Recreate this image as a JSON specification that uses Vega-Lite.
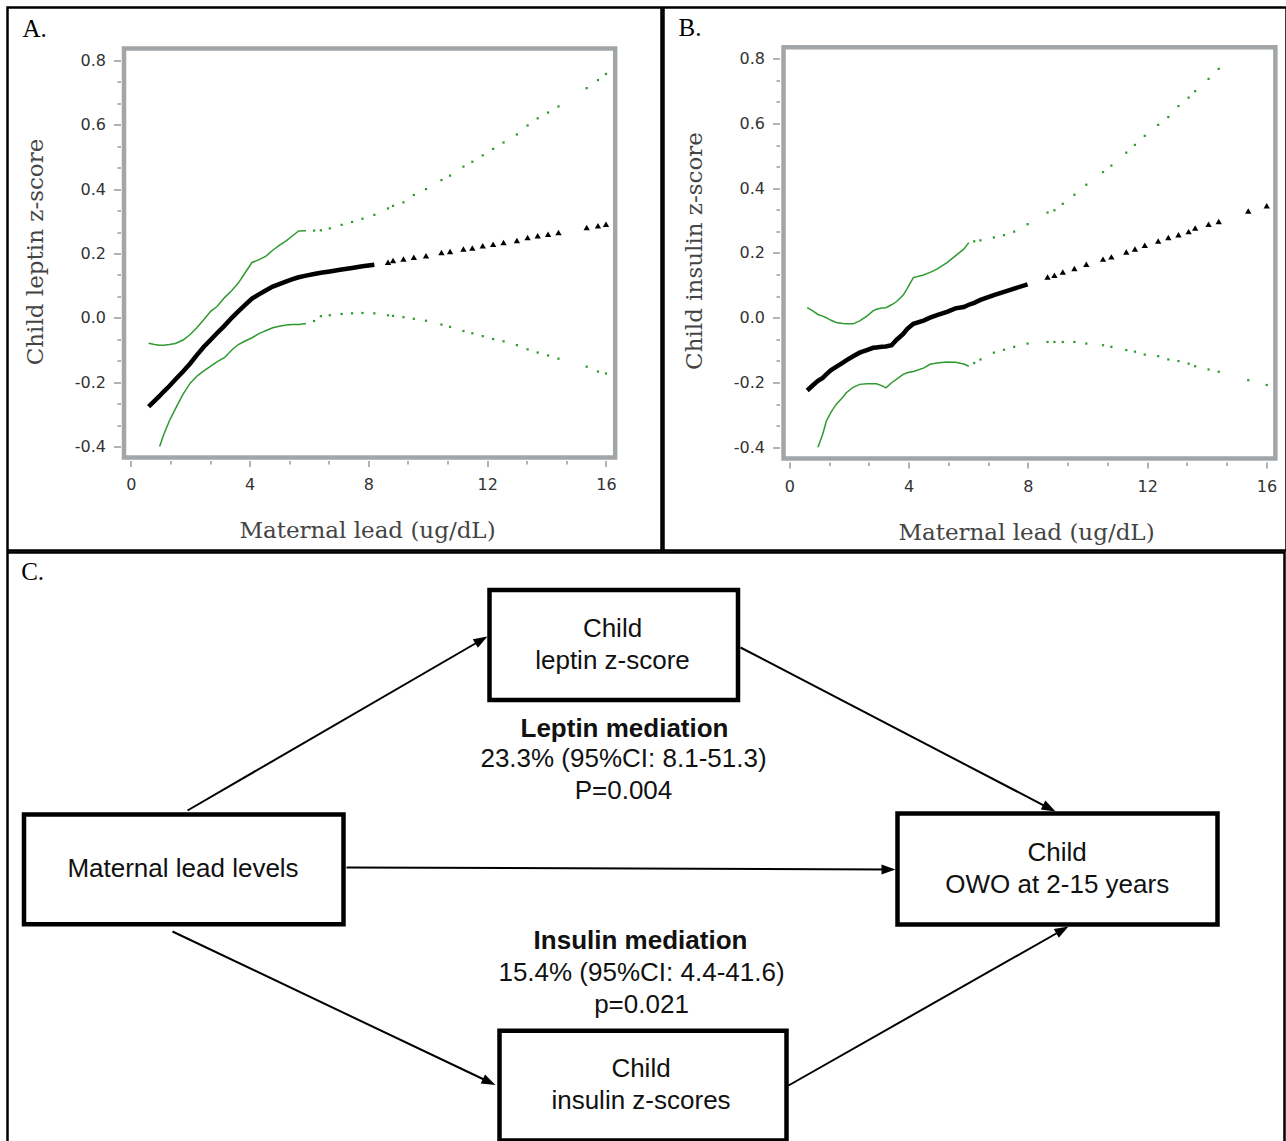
{
  "$schema": "https://vega.github.io/schema/vega-lite/v6.json",
  "padding": {"left": 5.5, "top": 5.5, "right": 0, "bottom": 0},
  "background": "white",
  "config": {
    "view": {"stroke": "black", "strokeWidth": 2.5},
    "axis": {"labelFlush": false, "labelOverlap": false, "labelBound": false, "grid": false, "domain": false}
  },
  "datasets": {
    "leptin": [
      {"x": 0.6, "est": -0.276, "lo": null, "hi": -0.079},
      {"x": 0.8, "est": -0.258, "lo": null, "hi": -0.083},
      {"x": 0.97, "est": -0.243, "lo": -0.4, "hi": -0.085},
      {"x": 1.1, "est": -0.23, "lo": -0.365, "hi": -0.085},
      {"x": 1.3, "est": -0.212, "lo": -0.32, "hi": -0.083},
      {"x": 1.5, "est": -0.192, "lo": -0.283, "hi": -0.08},
      {"x": 1.76, "est": -0.167, "lo": -0.237, "hi": -0.069},
      {"x": 2.0, "est": -0.142, "lo": -0.203, "hi": -0.052},
      {"x": 2.23, "est": -0.115, "lo": -0.181, "hi": -0.03},
      {"x": 2.46, "est": -0.09, "lo": -0.165, "hi": -0.005},
      {"x": 2.69, "est": -0.068, "lo": -0.15, "hi": 0.02},
      {"x": 2.9, "est": -0.048, "lo": -0.137, "hi": 0.035},
      {"x": 3.15, "est": -0.025, "lo": -0.124, "hi": 0.062},
      {"x": 3.4, "est": 0.0, "lo": -0.1, "hi": 0.085},
      {"x": 3.62, "est": 0.02, "lo": -0.083, "hi": 0.108},
      {"x": 3.85, "est": 0.04, "lo": -0.072, "hi": 0.14},
      {"x": 4.08, "est": 0.06, "lo": -0.062, "hi": 0.172},
      {"x": 4.3, "est": 0.072, "lo": -0.05, "hi": 0.18},
      {"x": 4.54, "est": 0.085, "lo": -0.04, "hi": 0.191},
      {"x": 4.78, "est": 0.097, "lo": -0.031, "hi": 0.21},
      {"x": 5.0, "est": 0.105, "lo": -0.026, "hi": 0.225},
      {"x": 5.24, "est": 0.113, "lo": -0.022, "hi": 0.24},
      {"x": 5.45, "est": 0.12, "lo": -0.021, "hi": 0.255},
      {"x": 5.65, "est": 0.126, "lo": -0.021, "hi": 0.27},
      {"x": 5.9, "est": 0.131, "lo": -0.018, "hi": 0.271},
      {"x": 6.17, "est": 0.136, "lo": -0.01, "hi": 0.271},
      {"x": 6.4, "est": 0.14, "lo": 0.005, "hi": 0.272},
      {"x": 6.7, "est": 0.144, "lo": 0.008, "hi": 0.278},
      {"x": 7.1, "est": 0.15, "lo": 0.012, "hi": 0.289},
      {"x": 7.45, "est": 0.155, "lo": 0.014, "hi": 0.298},
      {"x": 7.8, "est": 0.16, "lo": 0.015, "hi": 0.308},
      {"x": 8.2, "est": 0.165, "lo": 0.014, "hi": 0.32},
      {"x": 8.66, "est": 0.173, "lo": 0.008, "hi": 0.34},
      {"x": 8.83, "est": 0.178, "lo": 0.006, "hi": 0.348},
      {"x": 9.18, "est": 0.183, "lo": 0.002, "hi": 0.359},
      {"x": 9.53, "est": 0.188, "lo": -0.003, "hi": 0.382},
      {"x": 9.94, "est": 0.193, "lo": -0.009, "hi": 0.4},
      {"x": 10.46, "est": 0.203, "lo": -0.021, "hi": 0.428},
      {"x": 10.75, "est": 0.206, "lo": -0.028, "hi": 0.442},
      {"x": 11.2, "est": 0.214, "lo": -0.041, "hi": 0.47},
      {"x": 11.5, "est": 0.217, "lo": -0.048, "hi": 0.485},
      {"x": 11.85, "est": 0.224, "lo": -0.057, "hi": 0.505},
      {"x": 12.2, "est": 0.229, "lo": -0.066, "hi": 0.525},
      {"x": 12.55, "est": 0.234, "lo": -0.073, "hi": 0.545},
      {"x": 13.0, "est": 0.24, "lo": -0.085, "hi": 0.57},
      {"x": 13.36, "est": 0.25, "lo": -0.098, "hi": 0.598},
      {"x": 13.7, "est": 0.255, "lo": -0.108, "hi": 0.62},
      {"x": 14.05, "est": 0.26, "lo": -0.117, "hi": 0.638},
      {"x": 14.4, "est": 0.265, "lo": -0.127, "hi": 0.657},
      {"x": 15.35, "est": 0.281, "lo": -0.152, "hi": 0.714},
      {"x": 15.73, "est": 0.286, "lo": -0.167, "hi": 0.739},
      {"x": 16.0, "est": 0.291, "lo": -0.173, "hi": 0.758}
    ],
    "insulin": [
      {"x": 0.6, "est": -0.225, "lo": null, "hi": 0.031},
      {"x": 0.8, "est": -0.208, "lo": null, "hi": 0.02},
      {"x": 0.96, "est": -0.195, "lo": -0.4, "hi": 0.01},
      {"x": 1.12, "est": -0.186, "lo": -0.36, "hi": 0.005},
      {"x": 1.24, "est": -0.175, "lo": -0.32, "hi": 0.0},
      {"x": 1.4, "est": -0.162, "lo": -0.292, "hi": -0.008},
      {"x": 1.57, "est": -0.152, "lo": -0.268, "hi": -0.015},
      {"x": 1.8, "est": -0.139, "lo": -0.245, "hi": -0.018},
      {"x": 1.91, "est": -0.132, "lo": -0.232, "hi": -0.019},
      {"x": 2.14, "est": -0.119, "lo": -0.215, "hi": -0.019},
      {"x": 2.36, "est": -0.108, "lo": -0.206, "hi": -0.01},
      {"x": 2.6, "est": -0.1, "lo": -0.204, "hi": 0.005},
      {"x": 2.81, "est": -0.093, "lo": -0.204, "hi": 0.021},
      {"x": 2.92, "est": -0.092, "lo": -0.204, "hi": 0.026},
      {"x": 3.1, "est": -0.09, "lo": -0.21, "hi": 0.03},
      {"x": 3.24, "est": -0.089, "lo": -0.217, "hi": 0.031},
      {"x": 3.43, "est": -0.085, "lo": -0.201, "hi": 0.04},
      {"x": 3.6, "est": -0.068, "lo": -0.19, "hi": 0.05},
      {"x": 3.82, "est": -0.05, "lo": -0.175, "hi": 0.07},
      {"x": 3.95, "est": -0.035, "lo": -0.17, "hi": 0.09},
      {"x": 4.16, "est": -0.019, "lo": -0.166, "hi": 0.124},
      {"x": 4.5, "est": -0.009, "lo": -0.156, "hi": 0.132},
      {"x": 4.72, "est": 0.0, "lo": -0.144, "hi": 0.14},
      {"x": 4.95, "est": 0.008, "lo": -0.14, "hi": 0.15},
      {"x": 5.29, "est": 0.018, "lo": -0.137, "hi": 0.17},
      {"x": 5.57, "est": 0.029, "lo": -0.138, "hi": 0.191},
      {"x": 5.85, "est": 0.033, "lo": -0.143, "hi": 0.212},
      {"x": 6.02, "est": 0.04, "lo": -0.15, "hi": 0.232},
      {"x": 6.2, "est": 0.046, "lo": -0.14, "hi": 0.236},
      {"x": 6.41, "est": 0.055, "lo": -0.129, "hi": 0.239},
      {"x": 6.86, "est": 0.07, "lo": -0.108, "hi": 0.248},
      {"x": 7.2, "est": 0.08, "lo": -0.099, "hi": 0.255},
      {"x": 7.54, "est": 0.09, "lo": -0.09, "hi": 0.266},
      {"x": 7.99, "est": 0.103, "lo": -0.08, "hi": 0.289},
      {"x": 8.66, "est": 0.126, "lo": -0.075, "hi": 0.325},
      {"x": 8.89, "est": 0.131, "lo": -0.075, "hi": 0.332},
      {"x": 9.17, "est": 0.141, "lo": -0.075, "hi": 0.352},
      {"x": 9.56, "est": 0.152, "lo": -0.075, "hi": 0.38},
      {"x": 9.96, "est": 0.165, "lo": -0.08, "hi": 0.411},
      {"x": 10.52, "est": 0.181, "lo": -0.085, "hi": 0.45},
      {"x": 10.8, "est": 0.188, "lo": -0.09, "hi": 0.47},
      {"x": 11.3, "est": 0.203, "lo": -0.1, "hi": 0.51},
      {"x": 11.59, "est": 0.212, "lo": -0.105, "hi": 0.534},
      {"x": 11.92, "est": 0.224, "lo": -0.114, "hi": 0.562},
      {"x": 12.37, "est": 0.237, "lo": -0.119, "hi": 0.596},
      {"x": 12.71, "est": 0.248, "lo": -0.129, "hi": 0.62},
      {"x": 13.05, "est": 0.256, "lo": -0.134, "hi": 0.654},
      {"x": 13.39, "est": 0.266, "lo": -0.142, "hi": 0.68},
      {"x": 13.61, "est": 0.277, "lo": -0.15, "hi": 0.7},
      {"x": 14.06, "est": 0.289, "lo": -0.16, "hi": 0.738},
      {"x": 14.4, "est": 0.297, "lo": -0.167, "hi": 0.769},
      {"x": 15.39, "est": 0.33, "lo": -0.193, "hi": null},
      {"x": 16.01, "est": 0.346, "lo": -0.208, "hi": null}
    ],
    "boxes": [
      {"x1": 16.5, "x2": 336, "y1": 262, "y2": 371.7},
      {"x1": 482, "x2": 730.5, "y1": 37.5, "y2": 147.5},
      {"x1": 890, "x2": 1210, "y1": 261, "y2": 372},
      {"x1": 492, "x2": 779, "y1": 478.3, "y2": 588}
    ],
    "arrows": [
      {"x1": 180, "y1": 258, "x2": 473.9, "y2": 87.5, "angle": 329.9},
      {"x1": 733, "y1": 95, "x2": 1041.8, "y2": 255.8, "angle": 27.5},
      {"x1": 339, "y1": 315, "x2": 881, "y2": 317, "angle": 0.2},
      {"x1": 165, "y1": 379, "x2": 481.7, "y2": 529.5, "angle": 25.4},
      {"x1": 781, "y1": 533, "x2": 1054.9, "y2": 377.5, "angle": 330.4}
    ],
    "boxtext": [
      {"x": 175.5, "y": 316, "t": "Maternal lead levels"},
      {"x": 605, "y": 76.5, "t": "Child\nleptin z-score"},
      {"x": 1049.7, "y": 300, "t": "Child\nOWO at 2-15 years"},
      {"x": 633.5, "y": 516.5, "t": "Child\ninsulin z-scores"},
      {"x": 616, "y": 206.5, "t": "23.3% (95%CI: 8.1-51.3)\nP=0.004"},
      {"x": 634, "y": 420, "t": "15.4% (95%CI: 4.4-41.6)\np=0.021"}
    ],
    "boldtext": [
      {"x": 617, "y": 176.5, "t": "Leptin mediation"},
      {"x": 633, "y": 388, "t": "Insulin mediation"}
    ]
  },
  "vconcat": [
    {
      "hconcat": [
        {
          "width": 654,
          "height": 543,
          "layer": [
            {
              "data": {"values": [{"x1": -0.229, "x2": 16.31, "y1": -0.4343, "y2": 0.8371}]},
              "mark": {"type": "rect", "fillOpacity": 0, "stroke": "#a3a6a9", "strokeWidth": 4.5},
              "encoding": {
                "x": {"field": "x1", "type": "quantitative", "scale": {"domain": [-4.152, 17.869], "nice": false, "zero": false},
                  "axis": {"orient": "bottom", "offset": -90, "values": [0, 4, 8, 12, 16], "format": "d", "domain": false, "grid": false, "ticks": true, "tickSize": 6, "tickColor": "#999999", "tickWidth": 1.5, "labelPadding": 10, "labelFont": "DejaVu Sans", "labelFontSize": 16, "labelColor": "#333333", "title": "Maternal lead (ug/dL)", "titleFont": "DejaVu Serif", "titleFontSize": 23, "titleFontWeight": "normal", "titleColor": "#444444", "titleX": 359.5, "titleY": 70, "titleAlign": "center", "titleBaseline": "middle", "titleAngle": 0}},
                "x2": {"field": "x2"},
                "y": {"field": "y1", "type": "quantitative", "scale": {"domain": [-0.7233, 0.9646], "nice": false, "zero": false},
                  "axis": {"orient": "left", "offset": -113, "values": [-0.4, -0.2, 0, 0.2, 0.4, 0.6, 0.8], "labelExpr": "replace(format(datum.value, '.1f'), '−', '-')", "domain": false, "grid": false, "ticks": true, "tickSize": 7, "tickColor": "#999999", "tickWidth": 1.5, "labelPadding": 8, "labelFont": "DejaVu Sans", "labelFontSize": 16, "labelColor": "#333333", "title": "Child leptin z-score", "titleFont": "DejaVu Serif", "titleFontSize": 23, "titleFontWeight": "normal", "titleColor": "#444444", "titleX": -85, "titleY": 244, "titleAngle": -90, "titleAlign": "center", "titleBaseline": "middle"}},
                "y2": {"field": "y2"}
              }
            },
            {
              "data": {"values": [{"x1": -0.229, "x2": 16.31, "y1": -0.4343, "y2": 0.8371}]},
              "mark": {"type": "rect", "opacity": 0},
              "encoding": {
                "x": {"field": "x1", "type": "quantitative", "scale": {"domain": [-4.152, 17.869], "nice": false, "zero": false},
                  "axis": {"orient": "bottom", "offset": -90, "values": [1.3333, 2.6667, 5.3333, 6.6667, 9.3333, 10.6667, 13.3333, 14.6667], "labels": false, "domain": false, "grid": false, "ticks": true, "tickSize": 3.5, "tickColor": "#999999", "tickWidth": 1.5, "title": null}},
                "x2": {"field": "x2"},
                "y": {"field": "y1", "type": "quantitative", "scale": {"domain": [-0.7233, 0.9646], "nice": false, "zero": false},
                  "axis": {"orient": "left", "offset": -113, "values": [-0.3333, -0.2667, -0.1333, -0.0667, 0.0667, 0.1333, 0.2667, 0.3333, 0.4667, 0.5333, 0.6667, 0.7333], "labels": false, "domain": false, "grid": false, "ticks": true, "tickSize": 3.5, "tickColor": "#999999", "tickWidth": 1.5, "title": null}},
                "y2": {"field": "y2"}
              }
            },
            {
              "data": {"name": "leptin"},
              "transform": [{"filter": "datum.x <= 5.9 && isValid(datum.hi)"}],
              "mark": {"type": "line", "color": "#2f9a2f", "strokeWidth": 1.5},
              "encoding": {
                "x": {"field": "x", "type": "quantitative", "scale": {"domain": [-4.152, 17.869], "nice": false, "zero": false}, "axis": null},
                "y": {"field": "hi", "type": "quantitative", "scale": {"domain": [-0.7233, 0.9646], "nice": false, "zero": false}, "axis": null}
              }
            },
            {
              "data": {"name": "leptin"},
              "transform": [{"filter": "datum.x <= 5.9 && isValid(datum.lo)"}],
              "mark": {"type": "line", "color": "#2f9a2f", "strokeWidth": 1.5},
              "encoding": {
                "x": {"field": "x", "type": "quantitative", "scale": {"domain": [-4.152, 17.869], "nice": false, "zero": false}, "axis": null},
                "y": {"field": "lo", "type": "quantitative", "scale": {"domain": [-0.7233, 0.9646], "nice": false, "zero": false}, "axis": null}
              }
            },
            {
              "data": {"name": "leptin"},
              "transform": [{"filter": "datum.x > 5.9 && isValid(datum.hi)"}],
              "mark": {"type": "point", "shape": "square", "filled": true, "size": 5, "color": "#2f9a2f", "opacity": 1},
              "encoding": {
                "x": {"field": "x", "type": "quantitative", "scale": {"domain": [-4.152, 17.869], "nice": false, "zero": false}, "axis": null},
                "y": {"field": "hi", "type": "quantitative", "scale": {"domain": [-0.7233, 0.9646], "nice": false, "zero": false}, "axis": null}
              }
            },
            {
              "data": {"name": "leptin"},
              "transform": [{"filter": "datum.x > 5.9 && isValid(datum.lo)"}],
              "mark": {"type": "point", "shape": "square", "filled": true, "size": 5, "color": "#2f9a2f", "opacity": 1},
              "encoding": {
                "x": {"field": "x", "type": "quantitative", "scale": {"domain": [-4.152, 17.869], "nice": false, "zero": false}, "axis": null},
                "y": {"field": "lo", "type": "quantitative", "scale": {"domain": [-0.7233, 0.9646], "nice": false, "zero": false}, "axis": null}
              }
            },
            {
              "data": {"name": "leptin"},
              "transform": [{"filter": "datum.x <= 8.2"}],
              "mark": {"type": "line", "color": "black", "strokeWidth": 4.5},
              "encoding": {
                "x": {"field": "x", "type": "quantitative", "scale": {"domain": [-4.152, 17.869], "nice": false, "zero": false}, "axis": null},
                "y": {"field": "est", "type": "quantitative", "scale": {"domain": [-0.7233, 0.9646], "nice": false, "zero": false}, "axis": null}
              }
            },
            {
              "data": {"name": "leptin"},
              "transform": [{"filter": "datum.x > 8.2"}],
              "mark": {"type": "point", "shape": "triangle-up", "filled": true, "size": 40, "color": "black", "opacity": 1},
              "encoding": {
                "x": {"field": "x", "type": "quantitative", "scale": {"domain": [-4.152, 17.869], "nice": false, "zero": false}, "axis": null},
                "y": {"field": "est", "type": "quantitative", "scale": {"domain": [-0.7233, 0.9646], "nice": false, "zero": false}, "axis": null}
              }
            },
            {
              "data": {"values": [{"x": -3.646, "y": 0.8722, "t": "A."}]},
              "mark": {"type": "text", "align": "left", "baseline": "alphabetic", "font": "Liberation Serif", "fontSize": 25, "color": "black"},
              "encoding": {
                "x": {"field": "x", "type": "quantitative", "scale": {"domain": [-4.152, 17.869], "nice": false, "zero": false}, "axis": null},
                "y": {"field": "y", "type": "quantitative", "scale": {"domain": [-0.7233, 0.9646], "nice": false, "zero": false}, "axis": null},
                "text": {"field": "t"}
              }
            }
          ],
          "resolve": {"axis": {"x": "independent", "y": "independent"}}
        },
        {
          "width": 623,
          "height": 543,
          "layer": [
            {
              "data": {"values": [{"x1": -0.194, "x2": 16.3, "y1": -0.4351, "y2": 0.8359}]},
              "mark": {"type": "rect", "fillOpacity": 0, "stroke": "#a3a6a9", "strokeWidth": 4.5},
              "encoding": {
                "x": {"field": "x1", "type": "quantitative", "scale": {"domain": [-4.219, 16.673], "nice": false, "zero": false},
                  "axis": {"orient": "bottom", "offset": -88.5, "values": [0, 4, 8, 12, 16], "format": "d", "domain": false, "grid": false, "ticks": true, "tickSize": 6, "tickColor": "#999999", "tickWidth": 1.5, "labelPadding": 10, "labelFont": "DejaVu Sans", "labelFontSize": 16, "labelColor": "#333333", "title": "Maternal lead (ug/dL)", "titleFont": "DejaVu Serif", "titleFontSize": 23, "titleFontWeight": "normal", "titleColor": "#444444", "titleX": 362.5, "titleY": 70, "titleAlign": "center", "titleBaseline": "middle", "titleAngle": 0}},
                "x2": {"field": "x2"},
                "y": {"field": "y1", "type": "quantitative", "scale": {"domain": [-0.7194, 0.9586], "nice": false, "zero": false},
                  "axis": {"orient": "left", "offset": -116, "values": [-0.4, -0.2, 0, 0.2, 0.4, 0.6, 0.8], "labelExpr": "replace(format(datum.value, '.1f'), '−', '-')", "domain": false, "grid": false, "ticks": true, "tickSize": 7, "tickColor": "#999999", "tickWidth": 1.5, "labelPadding": 8, "labelFont": "DejaVu Sans", "labelFontSize": 16, "labelColor": "#333333", "title": "Child insulin z-score", "titleFont": "DejaVu Serif", "titleFontSize": 23, "titleFontWeight": "normal", "titleColor": "#444444", "titleX": -85, "titleY": 243, "titleAngle": -90, "titleAlign": "center", "titleBaseline": "middle"}},
                "y2": {"field": "y2"}
              }
            },
            {
              "data": {"values": [{"x1": -0.194, "x2": 16.3, "y1": -0.4351, "y2": 0.8359}]},
              "mark": {"type": "rect", "opacity": 0},
              "encoding": {
                "x": {"field": "x1", "type": "quantitative", "scale": {"domain": [-4.219, 16.673], "nice": false, "zero": false},
                  "axis": {"orient": "bottom", "offset": -88.5, "values": [1.3333, 2.6667, 5.3333, 6.6667, 9.3333, 10.6667, 13.3333, 14.6667], "labels": false, "domain": false, "grid": false, "ticks": true, "tickSize": 3.5, "tickColor": "#999999", "tickWidth": 1.5, "title": null}},
                "x2": {"field": "x2"},
                "y": {"field": "y1", "type": "quantitative", "scale": {"domain": [-0.7194, 0.9586], "nice": false, "zero": false},
                  "axis": {"orient": "left", "offset": -116, "values": [-0.3333, -0.2667, -0.1333, -0.0667, 0.0667, 0.1333, 0.2667, 0.3333, 0.4667, 0.5333, 0.6667, 0.7333], "labels": false, "domain": false, "grid": false, "ticks": true, "tickSize": 3.5, "tickColor": "#999999", "tickWidth": 1.5, "title": null}},
                "y2": {"field": "y2"}
              }
            },
            {
              "data": {"name": "insulin"},
              "transform": [{"filter": "datum.x <= 6.05 && isValid(datum.hi)"}],
              "mark": {"type": "line", "color": "#2f9a2f", "strokeWidth": 1.5},
              "encoding": {
                "x": {"field": "x", "type": "quantitative", "scale": {"domain": [-4.219, 16.673], "nice": false, "zero": false}, "axis": null},
                "y": {"field": "hi", "type": "quantitative", "scale": {"domain": [-0.7194, 0.9586], "nice": false, "zero": false}, "axis": null}
              }
            },
            {
              "data": {"name": "insulin"},
              "transform": [{"filter": "datum.x <= 6.05 && isValid(datum.lo)"}],
              "mark": {"type": "line", "color": "#2f9a2f", "strokeWidth": 1.5},
              "encoding": {
                "x": {"field": "x", "type": "quantitative", "scale": {"domain": [-4.219, 16.673], "nice": false, "zero": false}, "axis": null},
                "y": {"field": "lo", "type": "quantitative", "scale": {"domain": [-0.7194, 0.9586], "nice": false, "zero": false}, "axis": null}
              }
            },
            {
              "data": {"name": "insulin"},
              "transform": [{"filter": "datum.x > 6.05 && isValid(datum.hi)"}],
              "mark": {"type": "point", "shape": "square", "filled": true, "size": 5, "color": "#2f9a2f", "opacity": 1},
              "encoding": {
                "x": {"field": "x", "type": "quantitative", "scale": {"domain": [-4.219, 16.673], "nice": false, "zero": false}, "axis": null},
                "y": {"field": "hi", "type": "quantitative", "scale": {"domain": [-0.7194, 0.9586], "nice": false, "zero": false}, "axis": null}
              }
            },
            {
              "data": {"name": "insulin"},
              "transform": [{"filter": "datum.x > 6.05 && isValid(datum.lo)"}],
              "mark": {"type": "point", "shape": "square", "filled": true, "size": 5, "color": "#2f9a2f", "opacity": 1},
              "encoding": {
                "x": {"field": "x", "type": "quantitative", "scale": {"domain": [-4.219, 16.673], "nice": false, "zero": false}, "axis": null},
                "y": {"field": "lo", "type": "quantitative", "scale": {"domain": [-0.7194, 0.9586], "nice": false, "zero": false}, "axis": null}
              }
            },
            {
              "data": {"name": "insulin"},
              "transform": [{"filter": "datum.x <= 8.0"}],
              "mark": {"type": "line", "color": "black", "strokeWidth": 4.5},
              "encoding": {
                "x": {"field": "x", "type": "quantitative", "scale": {"domain": [-4.219, 16.673], "nice": false, "zero": false}, "axis": null},
                "y": {"field": "est", "type": "quantitative", "scale": {"domain": [-0.7194, 0.9586], "nice": false, "zero": false}, "axis": null}
              }
            },
            {
              "data": {"name": "insulin"},
              "transform": [{"filter": "datum.x > 8.0"}],
              "mark": {"type": "point", "shape": "triangle-up", "filled": true, "size": 40, "color": "black", "opacity": 1},
              "encoding": {
                "x": {"field": "x", "type": "quantitative", "scale": {"domain": [-4.219, 16.673], "nice": false, "zero": false}, "axis": null},
                "y": {"field": "est", "type": "quantitative", "scale": {"domain": [-0.7194, 0.9586], "nice": false, "zero": false}, "axis": null}
              }
            },
            {
              "data": {"values": [{"x": -3.716, "y": 0.872, "t": "B."}]},
              "mark": {"type": "text", "align": "left", "baseline": "alphabetic", "font": "Liberation Serif", "fontSize": 25, "color": "black"},
              "encoding": {
                "x": {"field": "x", "type": "quantitative", "scale": {"domain": [-4.219, 16.673], "nice": false, "zero": false}, "axis": null},
                "y": {"field": "y", "type": "quantitative", "scale": {"domain": [-0.7194, 0.9586], "nice": false, "zero": false}, "axis": null},
                "text": {"field": "t"}
              }
            }
          ],
          "resolve": {"axis": {"x": "independent", "y": "independent"}}
        }
      ],
      "spacing": -2.5
    },
    {
      "width": 1277,
      "height": 592,
      "layer": [
        {
          "data": {"name": "arrows"},
          "mark": {"type": "rule", "color": "black", "strokeWidth": 2},
          "encoding": {
            "x": {"field": "x1", "type": "quantitative", "scale": {"domain": [0, 1277], "nice": false, "zero": false}, "axis": null},
            "y": {"field": "y1", "type": "quantitative", "scale": {"domain": [0, 592], "nice": false, "zero": false, "reverse": true}, "axis": null},
            "x2": {"field": "x2"},
            "y2": {"field": "y2"}
          }
        },
        {
          "data": {"name": "arrows"},
          "mark": {"type": "point", "shape": "M1,0L-1,-0.72L-1,0.72Z", "filled": true, "color": "black", "size": 196, "opacity": 1},
          "encoding": {
            "x": {"field": "x2", "type": "quantitative", "scale": {"domain": [0, 1277], "nice": false, "zero": false}, "axis": null},
            "y": {"field": "y2", "type": "quantitative", "scale": {"domain": [0, 592], "nice": false, "zero": false, "reverse": true}, "axis": null},
            "angle": {"field": "angle", "type": "quantitative", "scale": null}
          }
        },
        {
          "data": {"name": "boxes"},
          "mark": {"type": "rect", "fillOpacity": 0, "stroke": "black", "strokeWidth": 4.5},
          "encoding": {
            "x": {"field": "x1", "type": "quantitative", "scale": {"domain": [0, 1277], "nice": false, "zero": false}, "axis": null},
            "x2": {"field": "x2"},
            "y": {"field": "y1", "type": "quantitative", "scale": {"domain": [0, 592], "nice": false, "zero": false, "reverse": true}, "axis": null},
            "y2": {"field": "y2"}
          }
        },
        {
          "data": {"name": "boxtext"},
          "mark": {"type": "text", "font": "Liberation Sans", "fontSize": 26, "lineBreak": "\n", "lineHeight": 32, "align": "center", "baseline": "middle", "color": "#111111"},
          "encoding": {
            "x": {"field": "x", "type": "quantitative", "scale": {"domain": [0, 1277], "nice": false, "zero": false}, "axis": null},
            "y": {"field": "y", "type": "quantitative", "scale": {"domain": [0, 592], "nice": false, "zero": false, "reverse": true}, "axis": null},
            "text": {"field": "t"}
          }
        },
        {
          "data": {"name": "boldtext"},
          "mark": {"type": "text", "font": "Liberation Sans", "fontSize": 26, "fontWeight": "bold", "align": "center", "baseline": "middle", "color": "#111111"},
          "encoding": {
            "x": {"field": "x", "type": "quantitative", "scale": {"domain": [0, 1277], "nice": false, "zero": false}, "axis": null},
            "y": {"field": "y", "type": "quantitative", "scale": {"domain": [0, 592], "nice": false, "zero": false, "reverse": true}, "axis": null},
            "text": {"field": "t"}
          }
        },
        {
          "data": {"values": [{"x": 13.7, "y": 27.3, "t": "C."}]},
          "mark": {"type": "text", "align": "left", "baseline": "alphabetic", "font": "Liberation Serif", "fontSize": 25, "color": "black"},
          "encoding": {
            "x": {"field": "x", "type": "quantitative", "scale": {"domain": [0, 1277], "nice": false, "zero": false}, "axis": null},
            "y": {"field": "y", "type": "quantitative", "scale": {"domain": [0, 592], "nice": false, "zero": false, "reverse": true}, "axis": null},
            "text": {"field": "t"}
          }
        }
      ]
    }
  ],
  "spacing": -2.5
}
